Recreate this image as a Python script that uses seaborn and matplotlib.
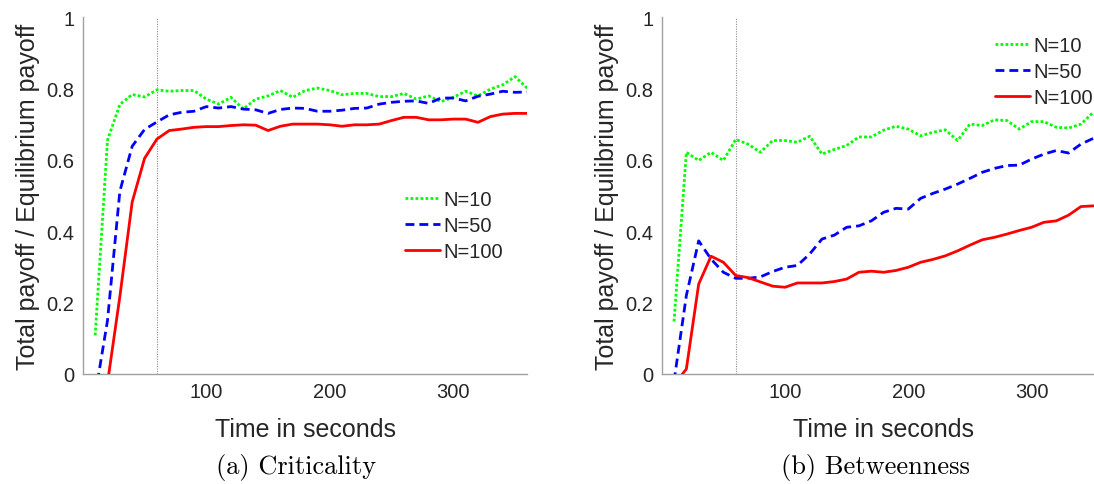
import matplotlib
matplotlib.use("Agg")
import matplotlib.pyplot as plt
import pandas as pd
import seaborn as sns

# ---- data -------------------------------------------------------------
time_crit = [10, 20, 30, 40, 50, 60, 70, 80, 90, 100, 110, 120, 130, 140, 150, 160, 170, 180,
             190, 200, 210, 220, 230, 240, 250, 260, 270, 280, 290, 300, 310, 320, 330, 340, 350, 360]
crit_n10 = [0.108, 0.655, 0.755, 0.783, 0.776, 0.796, 0.792, 0.794, 0.794, 0.770, 0.756, 0.775,
            0.742, 0.770, 0.779, 0.794, 0.775, 0.794, 0.801, 0.794, 0.782, 0.786, 0.786, 0.777,
            0.777, 0.786, 0.770, 0.779, 0.763, 0.775, 0.792, 0.779, 0.798, 0.810, 0.833, 0.800]
crit_n50 = [-0.06, 0.150, 0.512, 0.638, 0.685, 0.706, 0.726, 0.733, 0.736, 0.749, 0.745, 0.749,
            0.742, 0.740, 0.730, 0.741, 0.745, 0.744, 0.736, 0.736, 0.739, 0.744, 0.745, 0.756,
            0.761, 0.764, 0.765, 0.758, 0.773, 0.773, 0.765, 0.778, 0.784, 0.792, 0.789, 0.790]
crit_n100 = [-0.25, -0.025, 0.217, 0.482, 0.604, 0.658, 0.682, 0.686, 0.691, 0.693, 0.693, 0.696,
             0.698, 0.697, 0.682, 0.694, 0.700, 0.700, 0.700, 0.698, 0.694, 0.698, 0.698, 0.700,
             0.710, 0.719, 0.719, 0.712, 0.712, 0.714, 0.714, 0.705, 0.721, 0.728, 0.730, 0.730]

time_betw = [10, 20, 30, 40, 50, 60, 70, 80, 90, 100, 110, 120, 130, 140, 150, 160, 170, 180,
             190, 200, 210, 220, 230, 240, 250, 260, 270, 280, 290, 300, 310, 320, 330, 340, 350]
betw_n10 = [0.147, 0.621, 0.598, 0.621, 0.598, 0.657, 0.644, 0.621, 0.654, 0.654, 0.649, 0.666,
            0.616, 0.629, 0.640, 0.664, 0.664, 0.683, 0.694, 0.686, 0.667, 0.677, 0.684, 0.654,
            0.700, 0.696, 0.712, 0.710, 0.686, 0.707, 0.707, 0.691, 0.689, 0.700, 0.733]
betw_n50 = [-0.02, 0.220, 0.373, 0.322, 0.285, 0.268, 0.268, 0.272, 0.287, 0.299, 0.304, 0.336,
            0.378, 0.389, 0.411, 0.415, 0.429, 0.453, 0.464, 0.462, 0.492, 0.506, 0.518, 0.532,
            0.548, 0.565, 0.576, 0.584, 0.585, 0.602, 0.616, 0.626, 0.619, 0.644, 0.660]
betw_n100 = [-0.03, 0.014, 0.252, 0.330, 0.313, 0.276, 0.270, 0.258, 0.246, 0.243, 0.255, 0.255,
             0.255, 0.259, 0.266, 0.285, 0.288, 0.285, 0.290, 0.299, 0.313, 0.321, 0.331, 0.345,
             0.361, 0.376, 0.383, 0.392, 0.402, 0.411, 0.425, 0.429, 0.445, 0.469, 0.471]

series_labels = ["N=10", "N=50", "N=100"]
x_ticks = [100, 200, 300]
y_ticks = [0, 0.2, 0.4, 0.6, 0.8, 1]
y_tick_labels = ["0", "0.2", "0.4", "0.6", "0.8", "1"]
captions = ["(a) Criticality", "(b) Betweenness"]
x_label = "Time in seconds"
y_label = "Total payoff / Equilibrium payoff"
marker_time = 60

# ---- styling ----------------------------------------------------------
sns.set_style("white")
plt.rcParams["font.family"] = ["Liberation Sans", "DejaVu Sans"]
axis_grey = "#a0a0a0"
text_dark = "#262626"
colors = {"N=10": "#00ff00", "N=50": "#0000ff", "N=100": "#ff0000"}
styles = {"N=10": (0, (1.0, 0.8)), "N=50": (0, (3.2, 1.8)), "N=100": "-"}


def long_frame(times, *series):
    rows = []
    for label, values in zip(series_labels, series):
        for t, v in zip(times, values):
            rows.append({"time": t, "payoff": v, "group": label})
    return pd.DataFrame(rows)


panels = [
    long_frame(time_crit, crit_n10, crit_n50, crit_n100),
    long_frame(time_betw, betw_n10, betw_n50, betw_n100),
]

W, H = 1094, 485
fig = plt.figure(figsize=(W / 100, H / 100), dpi=100)

# axes boxes in pixels: (left, bottom-from-top, width, height)
boxes = [(82.8, 375, 444.6, 357), (661.7, 375, 443.9, 357)]
legend_anchor = [(0.725, 0.516), (0.751, 0.947)]
caption_x = [296, 875]

for i, (df, (x0, yb, w, h)) in enumerate(zip(panels, boxes)):
    ax = fig.add_axes([x0 / W, (H - yb) / H, w / W, h / H])
    ax.axvline(marker_time, color="#8c8c8c", lw=0.8, ls=(0, (1, 1.2)), zorder=1)
    for label in series_labels:
        sub = df[df["group"] == label]
        sns.lineplot(data=sub, x="time", y="payoff", ax=ax, color=colors[label],
                     linestyle=styles[label], lw=2.0, label=label, zorder=3)
    ax.set_xlim(0, 360)
    ax.set_ylim(0, 1)
    ax.set_xticks(x_ticks)
    ax.set_yticks(y_ticks)
    ax.set_yticklabels(y_tick_labels)
    ax.tick_params(direction="in", length=4, width=0.8, color=axis_grey,
                   labelcolor=text_dark, labelsize=14.5, pad=6)
    for side in ["top", "right"]:
        ax.spines[side].set_visible(False)
    for side in ["left", "bottom"]:
        ax.spines[side].set_color(axis_grey)
        ax.spines[side].set_linewidth(1.0)
    ax.set_xlabel(x_label, fontsize=18, color=text_dark, va="center")
    ax.set_ylabel(y_label, fontsize=18, color=text_dark, va="center")
    ax.xaxis.set_label_coords(0.5, -0.154)
    ax.yaxis.set_label_coords(-0.123, 0.5)
    leg = ax.legend(loc="upper left", bbox_to_anchor=legend_anchor[i], frameon=False,
                    fontsize=14.5, handlelength=1.75, handletextpad=0.15,
                    labelspacing=0.36, borderpad=0, borderaxespad=0)
    for t in leg.get_texts():
        t.set_color(text_dark)
    fig.text(caption_x[i] / W, 1 - 468 / H, captions[i], ha="center", va="center",
             fontsize=19, family="cmr10", color="black")

fig.savefig("out.png", dpi=100)
